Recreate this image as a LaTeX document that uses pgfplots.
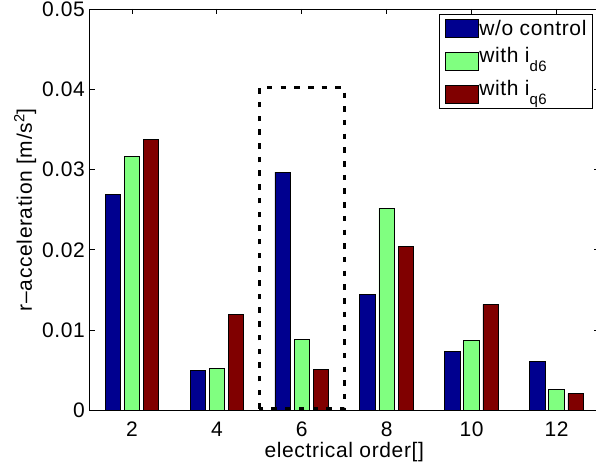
\documentclass[border=0pt]{standalone}
\usepackage{pgfplots}
\pgfplotsset{compat=1.18}
\usepackage{fontspec}
\setmainfont{Liberation Sans}[LetterSpace=3]
\definecolor{mblue}{rgb}{0,0,0.5625}
\definecolor{mgreen}{rgb}{0.5,1,0.5}
\definecolor{mred}{rgb}{0.5,0,0}
\newcommand{\lab}{\fontsize{21bp}{25bp}\selectfont}
\newcommand{\sub}[1]{\raisebox{-0.42em}{\fontsize{15bp}{15bp}\selectfont #1}}
\pgfplotstableread{
x   a       b       c
2   0.0269  0.0316  0.0337
4   0.0050  0.0052  0.0120
6   0.0297  0.0088  0.0051
8   0.0145  0.0252  0.0204
10  0.0073  0.0087  0.0132
12  0.0061  0.0026  0.0021
}\data
\begin{document}
\begin{tikzpicture}
\begin{axis}[
  scale only axis, width=509.5bp, height=401.5bp,
  xmin=1, xmax=13, ymin=0, ymax=0.05,
  xtick={2,4,6,8,10,12}, xticklabels={2,4,6,8,10,12},
  ytick={0,0.01,0.02,0.03,0.04,0.05}, yticklabels={0,0.01,0.02,0.03,0.04,0.05},
  tick align=inside, major tick length=5.5bp,
  tick style={line width=0.8bp, black},
  axis line style={line width=0.8bp},
  xticklabel style={font=\lab, inner sep=0bp, anchor=north, yshift=-11bp},
  yticklabel style={font=\lab, inner sep=0bp, anchor=east, xshift=-4.5bp},
  xlabel={electrical order[]},
  ylabel={r--acceleration [m/s\textsuperscript{2}]},
  xlabel style={font=\lab, at={(axis description cs:0.5,0)}, anchor=base, yshift=-47bp},
  ylabel style={font=\lab, at={(axis description cs:-0.1129,0.5)}, anchor=base},
  legend style={at={(0.988,0.9875)}, anchor=north east, draw=black, line width=0.8bp,
    font=\lab, inner xsep=6bp, inner ysep=5bp, row sep=9bp,
    nodes={inner sep=0bp}, /tikz/column 2/.style={column sep=4bp}},
  legend cell align=left,
]
\addplot[ybar, bar width=0.365, bar shift=-0.45, fill=mblue, draw=black, line width=0.8bp,
  legend image code/.code={\draw[fill=mblue, draw=black, line width=0.8bp] (0bp,-9bp) rectangle (33bp,9bp);}]
  table[x=x, y=a] {\data};
\addlegendentry{w/o control}
\addplot[ybar, bar width=0.365, bar shift=0, fill=mgreen, draw=black, line width=0.8bp,
  legend image code/.code={\draw[fill=mgreen, draw=black, line width=0.8bp] (0bp,-15bp) rectangle (33bp,3bp);}]
  table[x=x, y=b] {\data};
\addlegendentry{with i\sub{d6}}
\addplot[ybar, bar width=0.365, bar shift=0.45, fill=mred, draw=black, line width=0.8bp,
  legend image code/.code={\draw[fill=mred, draw=black, line width=0.8bp] (0bp,-15bp) rectangle (33bp,3bp);}]
  table[x=x, y=c] {\data};
\addlegendentry{with i\sub{q6}}
\addplot[sharp plot, black, line width=3bp, dash pattern=on 5.5bp off 8.2bp, forget plot]
  coordinates {(5,0.0002) (5,0.0402) (7,0.0402) (7,0.0002) (5,0.0002)};
\end{axis}
\pgfresetboundingbox
\path ([xshift=-89.5bp, yshift=-56.5bp]current axis.south west) rectangle ([xshift=-3bp, yshift=9bp]current axis.north east);
\end{tikzpicture}
\end{document}
